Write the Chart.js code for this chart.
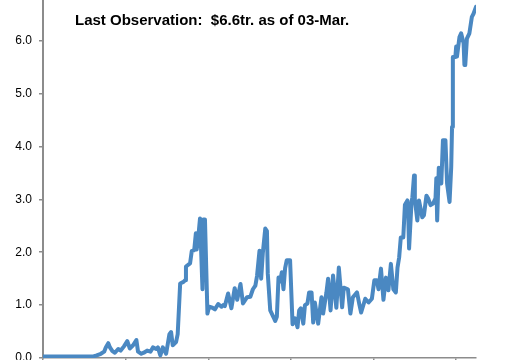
<!DOCTYPE html>
<html>
<head>
<meta charset="utf-8">
<script src="https://cdn.jsdelivr.net/npm/chart.js@4/dist/chart.umd.min.js"></script>
<style>
  body { margin: 0; background: #fff; }
  #wrap { position: relative; width: 518px; height: 360px; }
  #note {
    position: absolute; left: 75px; top: 12px;
    font: bold 15px "Liberation Sans", Arial, sans-serif; line-height: 15px;
    color: #000; white-space: pre;
  }
</style>
</head>
<body>
<div id="wrap">
  <canvas id="chart" width="518" height="360"></canvas>
  <div id="note">Last Observation:  $6.6tr. as of 03-Mar.</div>
</div>
<script>
// years since start of the series
const obsTime = [
  0, 0.61, 0.65, 0.70, 0.74, 0.76, 0.79, 0.81, 0.84, 0.87, 0.91, 0.94, 0.98, 1.02, 1.05, 1.09,
  1.13, 1.15, 1.19, 1.22, 1.26, 1.30, 1.33, 1.37, 1.39, 1.42, 1.45, 1.49, 1.53, 1.55, 1.57, 1.61,
  1.63, 1.66, 1.70, 1.72, 1.73, 1.78, 1.80, 1.83, 1.85, 1.86, 1.88, 1.90, 1.91, 1.93, 1.94, 1.96,
  1.99, 2.01, 2.05, 2.08, 2.12, 2.16, 2.18, 2.20, 2.24, 2.28, 2.32, 2.35, 2.39, 2.42, 2.47, 2.51,
  2.54, 2.57, 2.59, 2.62, 2.64, 2.66, 2.69, 2.71, 2.72, 2.75, 2.79, 2.81, 2.83, 2.85, 2.87, 2.89,
  2.91, 2.93, 2.95, 2.99, 3.02, 3.05, 3.08, 3.10, 3.12, 3.15, 3.17, 3.20, 3.22, 3.25, 3.27, 3.29,
  3.33, 3.37, 3.39, 3.43, 3.45, 3.48, 3.51, 3.55, 3.58, 3.62, 3.64, 3.69, 3.72, 3.75, 3.80, 3.83,
  3.85, 3.90, 3.94, 3.98, 4.01, 4.04, 4.06, 4.09, 4.12, 4.15, 4.18, 4.21, 4.24, 4.27, 4.29, 4.31,
  4.33, 4.36, 4.38, 4.41, 4.42, 4.43, 4.46, 4.47, 4.49, 4.50, 4.53, 4.55, 4.59, 4.61, 4.64, 4.66,
  4.69, 4.72, 4.75, 4.76, 4.77, 4.79, 4.82, 4.84, 4.87, 4.89, 4.92, 4.94, 4.95, 4.96, 4.99, 5.00,
  5.01, 5.04, 5.06, 5.09, 5.10, 5.11, 5.13, 5.16, 5.19, 5.21, 5.24
];
// $ trillions
const obsValue = [
  0.03, 0.03, 0.05, 0.08, 0.12, 0.20, 0.28, 0.20, 0.13, 0.10, 0.17, 0.14, 0.22, 0.32, 0.18, 0.24,
  0.34, 0.12, 0.08, 0.10, 0.14, 0.12, 0.20, 0.17, 0.20, 0.05, 0.20, 0.08, 0.45, 0.49, 0.24, 0.30,
  0.45, 1.41, 1.44, 1.47, 1.73, 1.79, 2.02, 2.04, 2.36, 2.05, 2.30, 2.64, 2.64, 1.30, 2.62, 2.62,
  0.84, 0.97, 0.95, 0.92, 1.02, 0.97, 1.00, 0.98, 1.22, 0.94, 1.32, 1.10, 1.40, 1.03, 1.15, 1.16,
  1.30, 1.37, 1.55, 2.03, 1.50, 1.98, 2.45, 2.40, 1.60, 0.90, 0.77, 0.70, 0.78, 1.52, 1.45, 1.62,
  1.30, 1.70, 1.85, 1.85, 0.64, 0.75, 0.58, 0.90, 0.94, 0.65, 1.00, 1.03, 1.24, 1.24, 0.67, 1.05,
  0.65, 1.15, 0.84, 1.24, 1.50, 0.90, 1.56, 0.95, 1.71, 0.96, 1.33, 1.30, 0.84, 1.15, 1.24, 1.00,
  0.86, 1.12, 1.05, 1.12, 1.47, 1.47, 1.30, 1.69, 1.10, 1.52, 1.28, 1.78, 1.30, 1.24, 1.71, 1.90,
  2.28, 2.28, 2.90, 2.98, 2.70, 2.07, 2.95, 3.04, 3.45, 3.00, 2.60, 2.98, 2.66, 2.70, 3.07, 3.02,
  2.89, 2.92, 3.02, 3.40, 2.60, 3.60, 3.30, 4.12, 4.12, 3.30, 2.95, 3.61, 4.37, 5.69, 5.69, 5.89,
  5.70, 6.07, 6.14, 5.95, 5.54, 5.54, 6.04, 6.14, 6.45, 6.51, 6.64
];
const yMax = 6.77;

const points = obsTime.map((t, i) => ({ x: t, y: obsValue[i] }));

new Chart(document.getElementById('chart').getContext('2d'), {
  type: 'line',
  data: {
    datasets: [{
      data: points,
      borderColor: '#4a88c2',
      borderWidth: 4,
      borderJoinStyle: 'round',
      borderCapStyle: 'round',
      pointRadius: 0,
      tension: 0,
      fill: false
    }]
  },
  options: {
    responsive: false,
    animation: false,
    layout: { padding: { left: 0, right: 42, top: 0, bottom: 0 } },
    plugins: { legend: { display: false }, tooltip: { enabled: false } },
    scales: {
      x: {
        type: 'linear',
        min: 0,
        max: obsTime[obsTime.length - 1],
        ticks: { display: false, stepSize: 1, includeBounds: false },
        grid: { drawOnChartArea: false, drawTicks: true, tickLength: 5, color: '#8c8c8c', lineWidth: 1.5 },
        border: { color: '#8c8c8c', width: 1.5 },
        afterFit: s => { s.height = 2; }
      },
      y: {
        min: 0,
        max: yMax,
        ticks: {
          stepSize: 1,
          includeBounds: false,
          padding: 7,
          color: '#000',
          font: { family: '"Liberation Sans", Arial, sans-serif', size: 12 },
          callback: v => v.toFixed(1)
        },
        grid: { drawOnChartArea: false, drawTicks: true, tickLength: 4, color: '#8c8c8c', lineWidth: 1.5 },
        border: { color: '#8c8c8c', width: 2 },
        afterFit: s => { s.width = 43; s.paddingTop = 0; s.paddingBottom = 0; }
      }
    }
  }
});
</script>
</body>
</html>
